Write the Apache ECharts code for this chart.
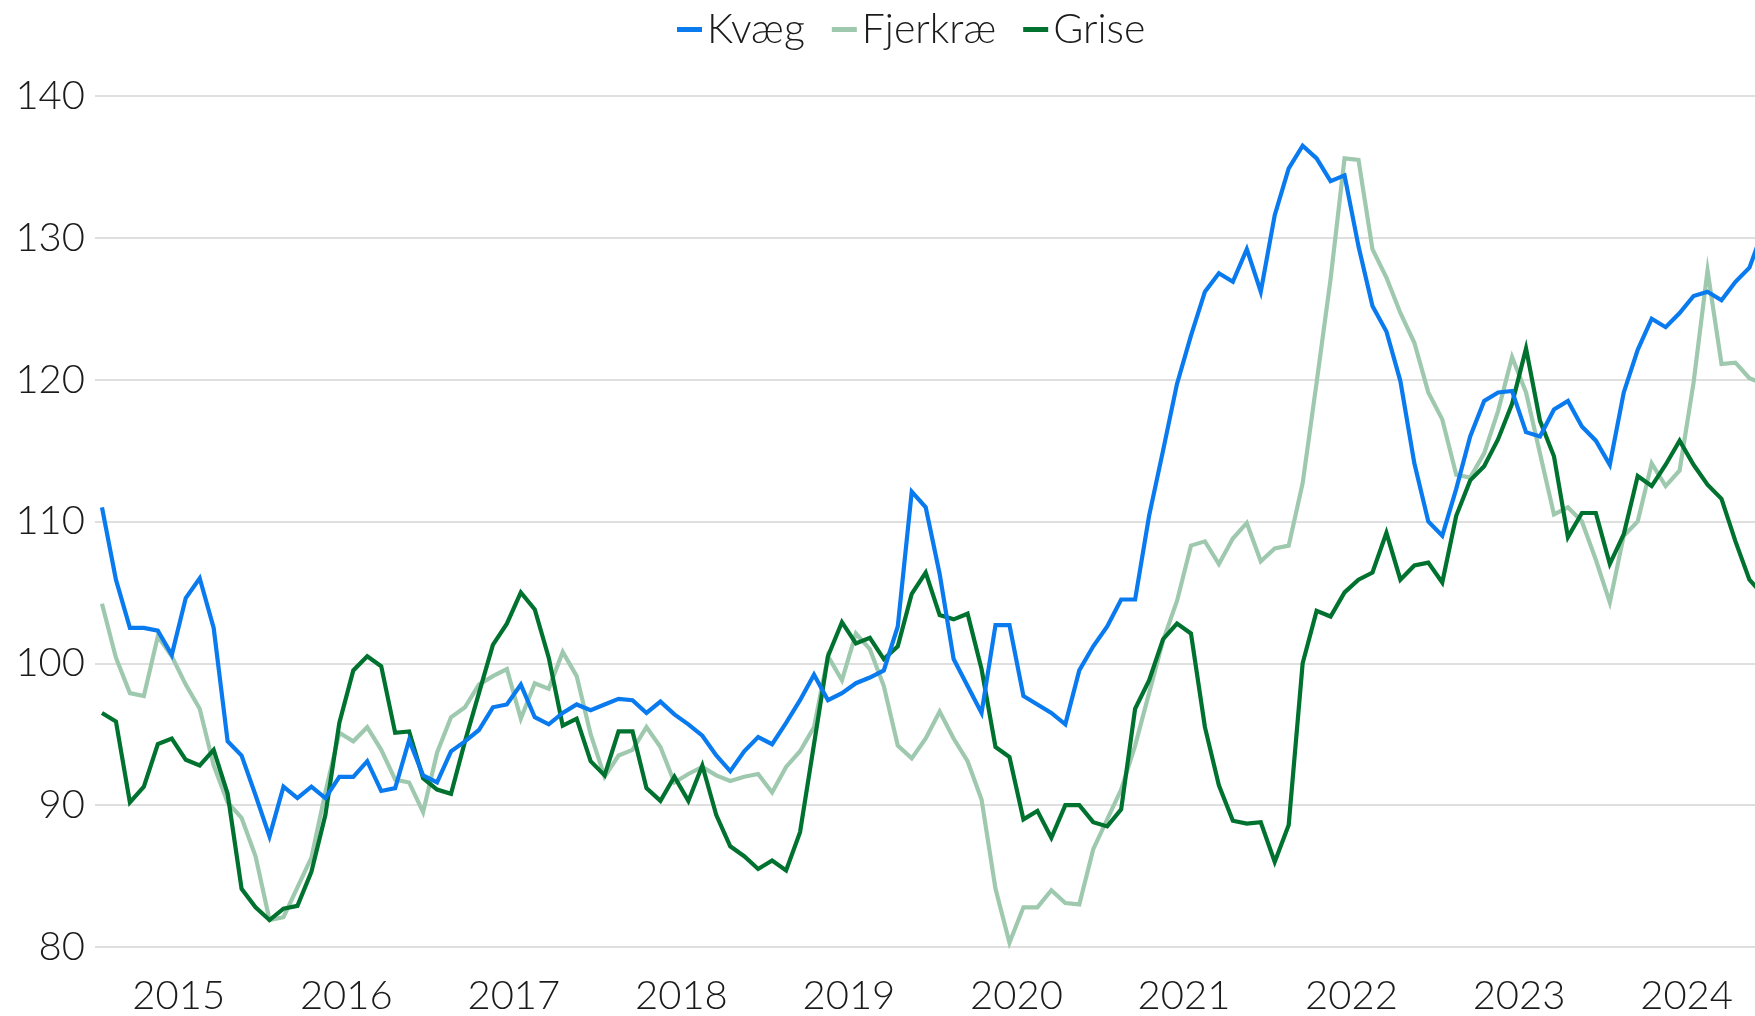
<!DOCTYPE html>
<html>
<head>
<meta charset="utf-8">
<script src="https://cdn.jsdelivr.net/npm/echarts@6/dist/echarts.min.js"></script>
<style>
  html, body { margin: 0; padding: 0; background: #ffffff; }
  #chart { width: 1755px; height: 1016px; }
</style>
</head>
<body>
<div id="chart"></div>
<script>
// Monthly index values, January 2015 – December 2024 (12 values per row = one year)
const years = [2015, 2016, 2017, 2018, 2019, 2020, 2021, 2022, 2023, 2024];

const kvaeg = [
  111.0,105.9,102.5,102.5,102.3,100.6,104.6,106.0,102.5,94.5,93.5,90.7,
  87.8,91.3,90.5,91.3,90.5,92.0,92.0,93.1,91.0,91.2,94.6,92.1,
  91.6,93.8,94.5,95.3,96.9,97.1,98.5,96.2,95.7,96.5,97.1,96.7,
  97.1,97.5,97.4,96.5,97.3,96.4,95.7,94.9,93.5,92.4,93.8,94.8,
  94.3,95.8,97.4,99.2,97.4,97.9,98.6,99.0,99.5,102.6,112.1,111.0,
  106.3,100.3,98.4,96.5,102.7,102.7,97.7,97.1,96.5,95.7,99.5,101.2,
  102.6,104.5,104.5,110.4,115.0,119.7,123.1,126.2,127.5,126.9,129.2,126.2,
  131.6,134.9,136.5,135.6,134.0,134.4,129.4,125.2,123.4,119.9,114.1,110.0,
  109.0,112.3,116.0,118.5,119.1,119.2,116.3,116.0,117.9,118.5,116.7,115.7,
  114.0,119.1,122.1,124.3,123.7,124.7,125.9,126.2,125.6,126.9,127.9,130.6
];

const fjerkrae = [
  104.2,100.4,97.9,97.7,101.9,100.5,98.5,96.8,92.8,90.2,89.1,86.4,
  81.9,82.1,84.2,86.3,90.9,95.1,94.5,95.5,93.9,91.8,91.6,89.5,
  93.7,96.2,96.9,98.5,99.1,99.6,96.1,98.6,98.2,100.8,99.1,95.0,
  92.0,93.5,93.9,95.5,94.1,91.6,92.2,92.7,92.1,91.7,92.0,92.2,
  90.9,92.7,93.8,95.5,100.5,98.8,102.1,101.0,98.4,94.2,93.3,94.7,
  96.6,94.7,93.1,90.4,84.1,80.3,82.8,82.8,84.0,83.1,83.0,86.9,
  89.0,91.1,94.2,97.9,101.6,104.4,108.3,108.6,107.0,108.8,109.9,107.2,
  108.1,108.3,112.7,119.8,127.1,135.6,135.5,129.2,127.2,124.7,122.6,119.1,
  117.2,113.3,113.1,114.8,117.8,121.6,119.1,114.8,110.5,111.0,110.0,107.3,
  104.3,109.0,110.0,114.1,112.5,113.6,119.8,127.7,121.1,121.2,120.1,119.7
];

const grise = [
  96.5,95.9,90.2,91.3,94.3,94.7,93.2,92.8,93.9,90.8,84.1,82.8,
  81.9,82.7,82.9,85.3,89.3,95.8,99.5,100.5,99.8,95.1,95.2,91.9,
  91.1,90.8,94.5,97.9,101.3,102.8,105.0,103.8,100.4,95.6,96.1,93.1,
  92.1,95.2,95.2,91.2,90.3,92.0,90.3,92.8,89.3,87.1,86.4,85.5,
  86.1,85.4,88.1,94.3,100.5,102.9,101.4,101.8,100.3,101.2,104.9,106.4,
  103.4,103.1,103.5,99.6,94.1,93.4,89.0,89.6,87.7,90.0,90.0,88.8,
  88.5,89.7,96.8,98.8,101.7,102.8,102.1,95.5,91.4,88.9,88.7,88.8,
  86.0,88.6,100.0,103.7,103.3,105.0,105.9,106.4,109.2,105.9,106.9,107.1,
  105.7,110.4,112.9,113.9,115.8,118.3,122.2,117.1,114.6,108.9,110.6,110.6,
  107.0,109.1,113.2,112.5,114.0,115.7,114.0,112.6,111.6,108.6,105.9,104.8
];

const yTicks = [80, 90, 100, 110, 120, 130, 140];

// x position = month index counted from January of the first year
const toPoints = arr => arr.map((v, i) => [i, v]);
// year label sits in the middle of its twelve months
const yearCentres = years.map((y, k) => k * 12 + 5.5);

const FONT = 'Lato';
const TEXT = '#1b1b1b';

const chart = echarts.init(document.getElementById('chart'), null, { renderer: 'canvas' });

const lineSeries = (name, data, color) => ({
  name,
  type: 'line',
  data: toPoints(data),
  showSymbol: false,
  symbol: 'none',
  lineStyle: { color, width: 4.2, join: 'miter' },
  itemStyle: { color },
  emphasis: { disabled: true },
  clip: true
});

chart.setOption({
  animation: false,
  backgroundColor: '#ffffff',
  legend: {
    top: 4,
    left: 672,
    icon: 'rect',
    itemWidth: 25,
    itemHeight: 5,
    itemGap: 27,
    textStyle: { fontFamily: FONT, fontWeight: 300, fontSize: 41, color: TEXT },
    data: ['Kvæg', 'Fjerkræ', 'Grise']
  },
  grid: { left: 95, right: 0, top: 96, bottom: 68, containLabel: false },
  xAxis: {
    type: 'value',
    min: -0.5,
    max: 118.4,
    axisLine: { show: false },
    axisTick: { show: false },
    splitLine: { show: false },
    axisLabel: {
      customValues: yearCentres,
      showMinLabel: true,
      showMaxLabel: true,
      margin: 29,
      fontFamily: FONT,
      fontWeight: 300,
      fontSize: 40,
      color: TEXT,
      formatter: v => String(years[Math.round((v - 5.5) / 12)])
    }
  },
  yAxis: {
    type: 'value',
    min: yTicks[0],
    max: yTicks[yTicks.length - 1],
    interval: 10,
    axisLine: { show: false },
    axisTick: { show: false },
    splitLine: { lineStyle: { color: '#d4d4d4', width: 1.5 } },
    axisLabel: {
      margin: 10,
      fontFamily: FONT,
      fontWeight: 300,
      fontSize: 40,
      color: TEXT
    }
  },
  series: [
    lineSeries('Fjerkræ', fjerkrae, '#9fc9ae'),
    lineSeries('Grise', grise, '#00722f'),
    lineSeries('Kvæg', kvaeg, '#0a7bef')
  ]
});
</script>
</body>
</html>
